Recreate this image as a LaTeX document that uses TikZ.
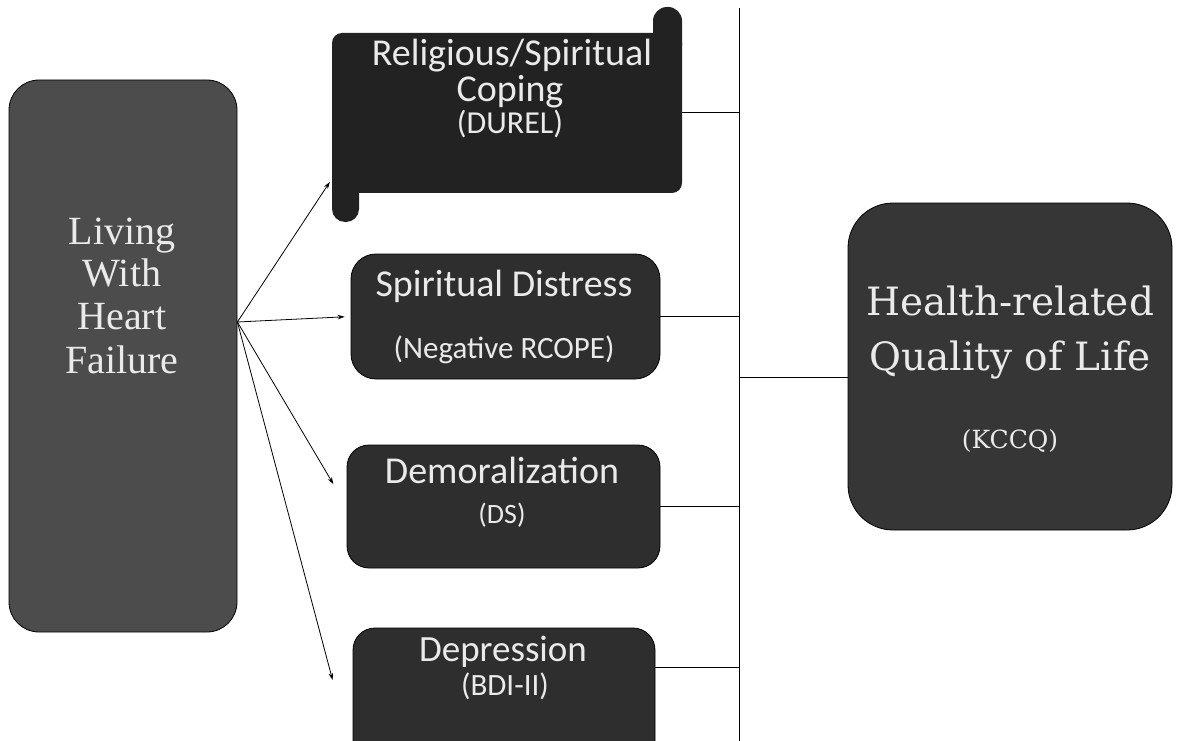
\documentclass[tikz,border=0pt]{standalone}
\usepackage{fontspec}
\setmainfont{Liberation Serif}
\newfontfamily\boxsans{Carlito}
\newfontfamily\qolserif{DejaVu Serif}
\usetikzlibrary{arrows.meta}
\definecolor{lgray}{HTML}{4C4C4C}
\definecolor{relgray}{HTML}{222222}
\definecolor{midgray}{HTML}{2E2E2E}
\definecolor{qolgray}{HTML}{363636}
\definecolor{txtgray}{HTML}{EAEAEA}
\newcommand{\fs}[1]{\fontsize{#1}{#1}\selectfont}
\begin{document}
\begin{tikzpicture}[x=1pt,y=-1pt,
  boxbase/.style={draw=black, line width=0.8pt, inner sep=0pt},
  lbl/.style={text=txtgray, inner sep=0pt, text height=0.7em, text depth=0pt},
  conn/.style={line width=1pt, black},
  arr/.style={line width=0.8pt, black, -{Stealth[length=7pt,width=4.5pt]}}
]
\useasboundingbox (0,0) rectangle (1184,741);

% left box
\node[boxbase, fill=lgray, rounded corners=30pt, minimum width=228pt, minimum height=552pt] (lwhf) at (123,356) {};
\node[lbl, font=\fs{40}] (l1) at (122,241) {Living};
\node[lbl, font=\fs{40}] (l2) at (122,283) {With};
\node[lbl, font=\fs{40}] (l3) at (122,326) {Heart};
\node[lbl, font=\fs{40}] (l4) at (122,370) {Failure};

% religious scroll
\fill[relgray, rounded corners=14pt] (653,7) rectangle (682,60);
\fill[relgray, rounded corners=13pt] (332,165) rectangle (359,222);
\node[inner sep=0pt, fill=relgray, rounded corners=10pt, minimum width=350pt, minimum height=160pt] (rel) at (507,113) {};
\node[lbl, font=\boxsans\fs{38}] (r1) at (512,62) {Religious/Spiritual};
\node[lbl, font=\boxsans\fs{38}] (r2) at (510,98) {Coping};
\node[lbl, font=\boxsans\fs{32}] (r3) at (510,130) {(DUREL)};

% spiritual distress
\node[boxbase, fill=midgray, rounded corners=25pt, minimum width=309pt, minimum height=125pt] (sd) at (505.5,316.5) {};
\node[lbl, font=\boxsans\fs{38}] (s1) at (504,293) {Spiritual Distress};
\node[lbl, font=\boxsans\fs{31}] (s2) at (504,355) {(Negative RCOPE)};

% demoralization
\node[boxbase, fill=midgray, rounded corners=22pt, minimum width=313pt, minimum height=123pt] (dem) at (503.5,506.5) {};
\node[lbl, font=\boxsans\fs{38}] (d1) at (502,480) {Demoralization};
\node[lbl, font=\boxsans\fs{28}] (d2) at (502,520) {(DS)};

% depression
\node[boxbase, fill=midgray, rounded corners=22pt, minimum width=302pt, minimum height=142pt] (dep) at (504,699) {};
\node[lbl, font=\boxsans\fs{37}] (p1) at (503,658) {Depression};
\node[lbl, font=\boxsans\fs{31}] (p2) at (505,692) {(BDI-II)};

% quality of life
\node[boxbase, fill=qolgray, rounded corners=45pt, minimum width=324pt, minimum height=327pt] (qol) at (1010,366.5) {};
\node[lbl, font=\qolserif\fs{39}] (q1) at (1010,312) {Health-related};
\node[lbl, font=\qolserif\fs{39}] (q2) at (1010,367) {Quality of Life};
\node[lbl, font=\qolserif\fs{25}] (q3) at (1010,445) {(KCCQ)};

% bus
\coordinate (bustop) at (739,8);
\coordinate (busbot) at (739,741);
\draw[conn] (bustop) -- (busbot);

\draw[conn] (rel.east) -- (rel.east -| bustop);
\draw[conn] (sd.east) -- (sd.east -| bustop);
\draw[conn] (dem.east) -- (dem.east -| bustop);
\coordinate (depout) at ([yshift=-40pt]dep.north east);
\draw[conn] (depout) -- (depout -| bustop);
\coordinate (qolin) at ([yshift=-10.5pt]qol.west);
\draw[conn] (qolin -| bustop) -- (qolin);

% arrows
\coordinate (src) at ([yshift=34pt]lwhf.east);
\coordinate (reltip) at ([xshift=-2pt,yshift=-69pt]rel.west);
\coordinate (deptip) at ([xshift=-20pt,yshift=19pt]dep.west);
\draw[arr] (src) -- (reltip);
\draw[arr, shorten >=6pt] (src) -- (sd.west);
\draw[arr, shorten >=26pt] (src) -- (dem.west);
\draw[arr] (src) -- (deptip);
\end{tikzpicture}
\end{document}
